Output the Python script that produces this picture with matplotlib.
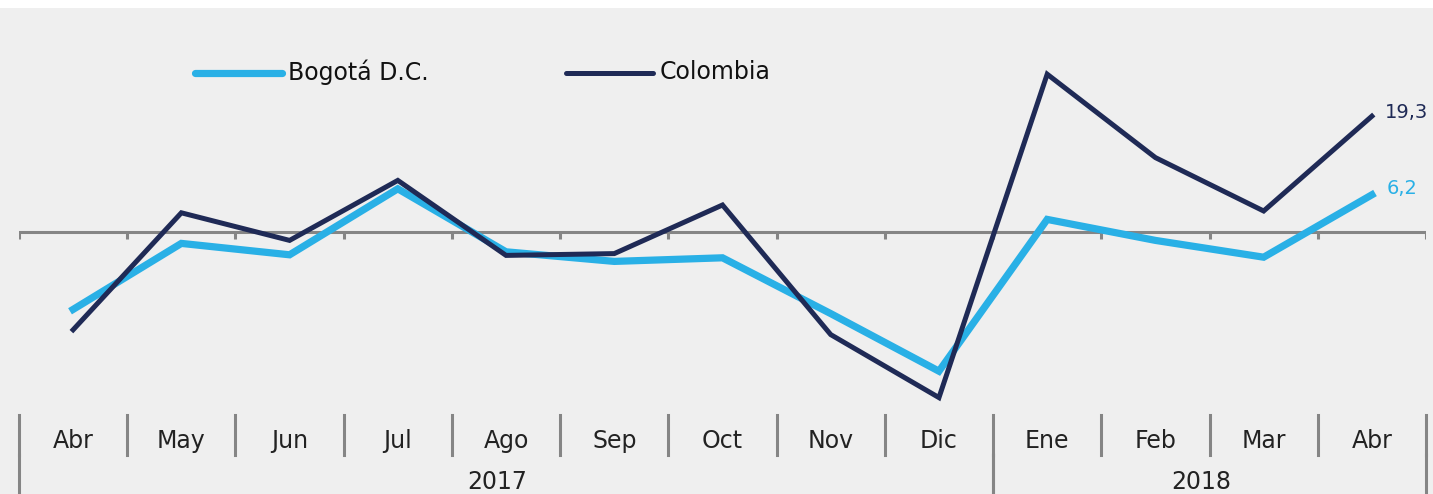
import matplotlib.pyplot as plt
from matplotlib.patches import Rectangle

months = ['Abr', 'May', 'Jun', 'Jul', 'Ago', 'Sep', 'Oct', 'Nov', 'Dic',
          'Ene', 'Feb', 'Mar', 'Abr']
years = ['2017', '2018']
year_spans = [(0, 9), (9, 13)]
bogota = [-12.9, -1.9, -3.8, 7.2, -3.3, -4.9, -4.3, -13.6, -23.2,
          2.1, -1.4, -4.2, 6.2]
colombia = [-16.3, 3.2, -1.4, 8.6, -3.9, -3.6, 4.5, -17.1, -27.6,
            26.3, 12.4, 3.5, 19.3]

BLUE = '#29b0e6'
NAVY = '#1f2a56'
GRAY = '#858585'
BG = '#efefef'

W, H = 1433, 494
fig = plt.figure(figsize=(W / 100, H / 100), dpi=100, facecolor='white')
fig.patches.append(Rectangle((-0.01, -0.01), 1.02, 1.01 - 8 / H,
                             transform=fig.transFigure,
                             facecolor=BG, edgecolor='none', zorder=-10))

# axes span the full height so the month boxes sit in data space
left, right = 19, 1426
ax = fig.add_axes([left / W, 0, (right - left) / W, 1])
ax.set_facecolor('none')
ax.set_zorder(5)
scale = 6.0   # px per unit
zero_px = 232
ax.set_ylim((zero_px - H) / scale, zero_px / scale)
ax.set_xlim(0, len(months))
ax.axis('off')


def py(p):
    return (zero_px - p) / scale


x = [i + 0.5 for i in range(len(months))]

# zero line with ticks at category boundaries
ax.axhline(0, color=GRAY, lw=2.2, zorder=1)
for b in range(len(months) + 1):
    ax.plot([b, b], [0, py(239)], color=GRAY, lw=2.2, zorder=1,
            solid_capstyle='butt')

ax.plot(x, bogota, color=BLUE, lw=5.2, solid_joinstyle='miter', zorder=3)
ax.plot(x, colombia, color=NAVY, lw=3.6, solid_joinstyle='miter', zorder=4)

font = 'DejaVu Sans'
ax.text(x[-1] + 0.12, py(112), '19,3', color=NAVY,
        fontsize=14, family=font, va='center', ha='left')
ax.text(x[-1] + 0.14, py(189), '6,2', color=BLUE,
        fontsize=14, family=font, va='center', ha='left')

# month labels and separators
for b in range(len(months) + 1):
    ax.plot([b, b], [py(415), py(455)], color=GRAY, lw=2.2, clip_on=False)
for i, m in enumerate(months):
    ax.text(x[i], py(441), m, ha='center', va='center', fontsize=17,
            family=font, color='#222222')
for yr, (a, b) in zip(years, year_spans):
    for edge in (a, b):
        ax.plot([edge, edge], [py(455), py(H + 2)], color=GRAY, lw=2.2,
                clip_on=False)
    ax.text((a + b) / 2 - 0.08, py(482), yr, ha='center', va='center',
            fontsize=17, family=font, color='#222222')

# legend drawn by hand to match the spacing
lx = [(195 - left) / 108.2, (566 - left) / 108.2]
names = ['Bogotá D.C.', 'Colombia']
for (xs, name, c, lw) in zip(lx, names, [BLUE, NAVY], [5.2, 3.6]):
    ax.plot([xs, xs + 0.8], [py(73), py(73)], color=c, lw=lw,
            solid_capstyle='round')
    ax.text(xs + 0.86, py(72), name, ha='left', va='center', fontsize=17,
            family=font, color='#111111')

fig.savefig('out.png', dpi=100, facecolor=fig.get_facecolor())
